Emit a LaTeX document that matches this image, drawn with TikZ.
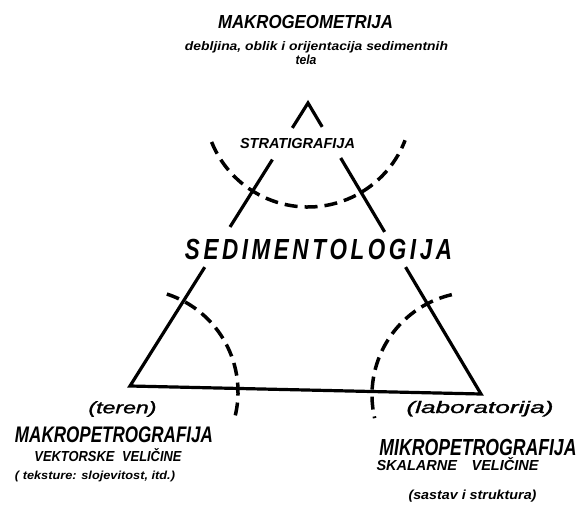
\documentclass[tikz,border=0pt]{standalone}
\usepackage{fontspec}
\setmainfont{Liberation Sans}
\usetikzlibrary{calc}
\newcommand{\fitbox}[3]{\resizebox{#1pt}{#2pt}{\smash{#3}\vphantom{A}}}
\newcommand{\lsp}{\kern0.16em}
\begin{document}
\begin{tikzpicture}[x=1pt,y=-1pt,
  lbl/.style={anchor=base, inner sep=0pt, font=\bfseries\itshape},
  lblr/.style={anchor=base, inner sep=0pt, font=\itshape\addfontfeature{FakeBold=1.2}},
  side/.style={line width=3.2pt},
  dasharc/.style={line width=3.5pt, dash pattern=on 13pt off 7pt}]
\useasboundingbox (0,0) rectangle (578,510);
% triangle corners
\coordinate (A) at (308,103);
\coordinate (L) at (130,386);
\coordinate (R) at (481,394);
% triangle sides, broken by the labels
\draw[side] ($(A)!0.088!(L)$) -- (A) -- ($(A)!0.082!(R)$);
\draw[side] ($(A)!0.200!(L)$) -- ($(A)!0.438!(L)$);
\draw[side] ($(A)!0.189!(R)$) -- ($(A)!0.443!(R)$);
\draw[side] ($(A)!0.580!(L)$) -- (L) -- (R) -- ($(A)!0.564!(R)$);
% dashed arcs
\draw[dasharc] ($(A)+(158:104)$) arc[start angle=158, end angle=21, radius=104];
\coordinate (LC) at (135,392);
\draw[dasharc] ($(LC)+(-72:103)$) arc[start angle=-72, end angle=15, radius=103];
\coordinate (RC) at (475,395);
\draw[dasharc] ($(RC)+(257:103)$) arc[start angle=257, end angle=167, radius=103];
% texts
\node[lbl] (mg) at (305.5,28.3) {\fitbox{175}{13}{MAKROGEOMETRIJA}};
\node[lbl] (deb) at (316.5,50.5) {\fitbox{263}{8.5}{debljina, oblik i orijentacija sedimentnih}};
\node[lbl] (tela) at (306,65) {\fitbox{21}{9}{tela}};
\node[lbl] (strat) at (297.5,148.3) {\fitbox{115}{10}{STRATIGRAFIJA}};
\node[lbl] (sed) at (318.5,260) {\fitbox{267}{20}{S\lsp E\lsp D\lsp I\lsp M\lsp E\lsp N\lsp T\lsp O\lsp L\lsp O\lsp G\lsp I\lsp J\lsp A}};
\node[lblr] (teren) at (122.5,413.3) {\fitbox{68}{11.5}{(teren)}};
\node[lblr] (lab) at (480,413) {\fitbox{147}{11.5}{(laboratorija)}};
\node[lbl] (makro) at (114,442.7) {\fitbox{198}{15.5}{MAKROPETROGRAFIJA}};
\node[lbl] (vekt) at (108,461.7) {\fitbox{147}{10}{VEKTORSKE\hspace{0.6em}VELIČINE}};
\node[lbl] (teks) at (95,479) {\fitbox{160}{8}{( teksture: slojevitost, itd.)}};
\node[lbl] (mikro) at (478,455) {\fitbox{197}{16}{MIKROPETROGRAFIJA}};
\node[lbl] (skal) at (457.5,470) {\fitbox{162}{10}{SKALARNE\hspace{1em}VELIČINE}};
\node[lbl] (sast) at (472.5,499) {\fitbox{128}{9}{(sastav i struktura)}};
\end{tikzpicture}
\end{document}
